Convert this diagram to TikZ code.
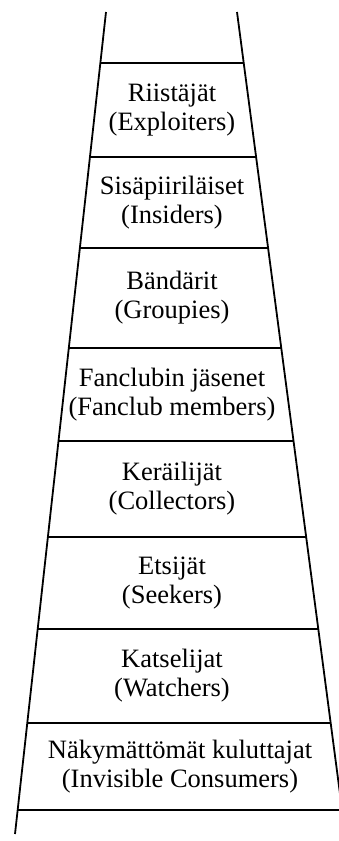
\documentclass[tikz,border=0pt]{standalone}
\usepackage{fontspec}
\setmainfont{Liberation Serif}
\usetikzlibrary{calc}
\tikzset{
  rail/.style={line width=1.8pt},
  rung/.style={line width=1.8pt},
  tier/.style={align=center, inner sep=0pt, font=\fontsize{26.5}{29}\selectfont}
}
\begin{document}
\begin{tikzpicture}[x=1pt, y=-1pt]
\useasboundingbox (0,0) rectangle (339,841);
\begin{scope}
\clip (0,0) rectangle (339,841);
% the two rails
\coordinate (lt) at (106,12);
\coordinate (lb) at (15,834);
\coordinate (rt) at (237,12);
\coordinate (rb) at (345.3,834);
\draw[rail] (lt) -- (lb);
\draw[rail] (rt) -- (rb);
% rungs
\foreach \t in {0.0620,0.1764,0.2871,0.4088,0.5219,0.6387,0.7506,0.8650,0.9708}
  \draw[rung] ($(lt)!\t!(lb)$) -- ($(rt)!\t!(rb)$);
\end{scope}
% tiers
\node[tier] (exploiters) at (172,110) {Riistäjät\\(Exploiters)};
\node[tier] (insiders) at (172,202.5) {Sisäpiiriläiset\\(Insiders)};
\node[tier] (groupies) at (172,298) {Bändärit\\(Groupies)};
\node[tier] (members) at (172,394.5) {Fanclubin jäsenet\\(Fanclub members)};
\node[tier] (collectors) at (172,489) {Keräilijät\\(Collectors)};
\node[tier] (seekers) at (172,583) {Etsijät\\(Seekers)};
\node[tier] (watchers) at (172,676) {Katselijat\\(Watchers)};
\node[tier] (consumers) at (180,766.5) {Näkymättömät kuluttajat\\(Invisible Consumers)};
\end{tikzpicture}
\end{document}
